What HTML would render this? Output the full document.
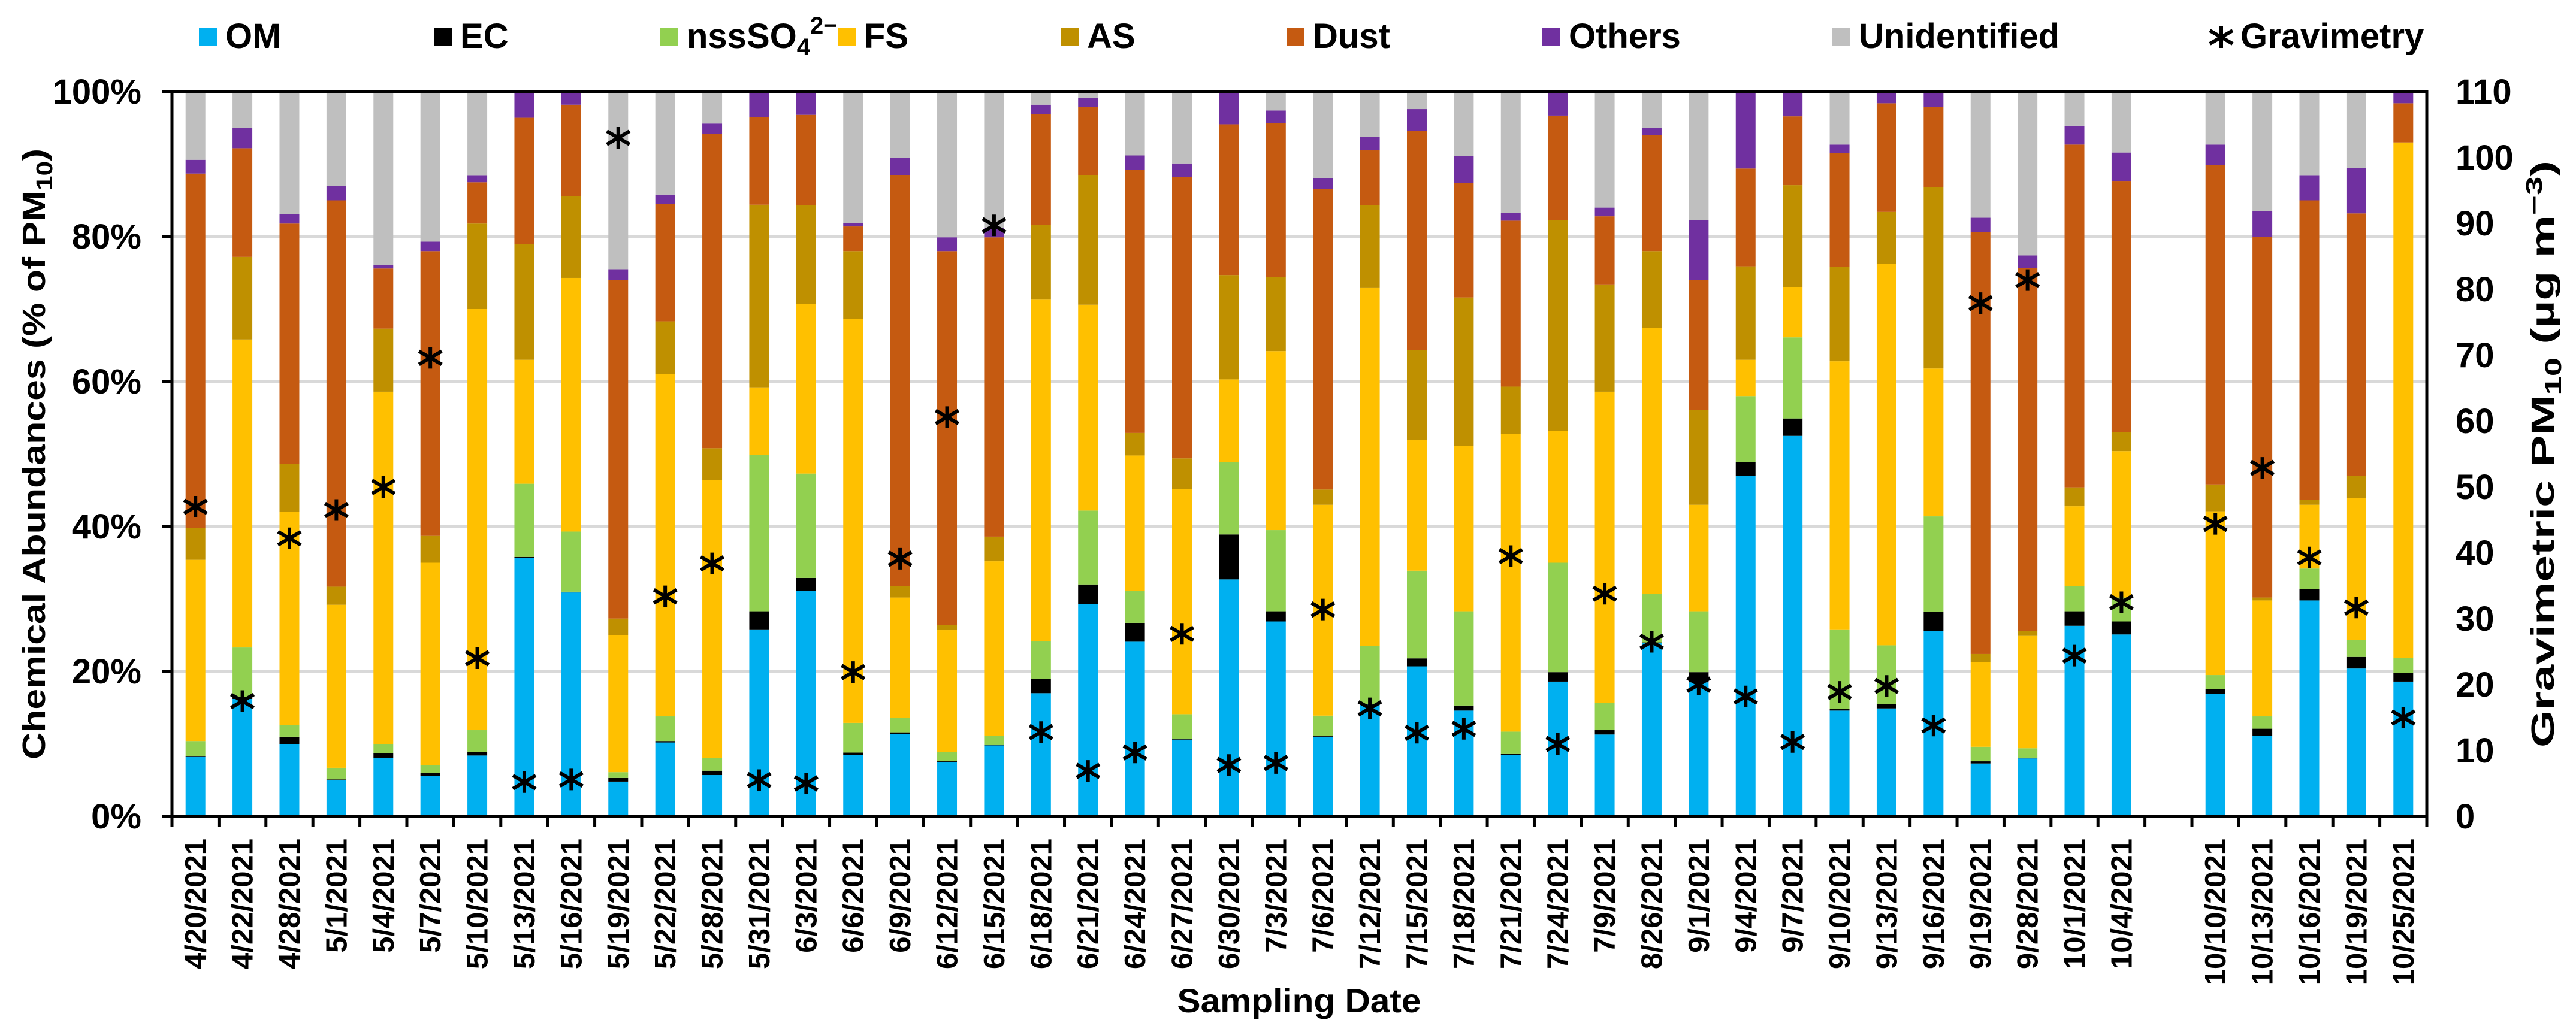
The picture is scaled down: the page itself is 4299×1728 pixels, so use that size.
<!DOCTYPE html>
<html><head><meta charset="utf-8"><style>
html,body{margin:0;padding:0;background:#fff;}
svg{display:block;font-family:"Liberation Sans",Arial,sans-serif;}
</style></head><body>
<svg id="chart" width="4299" height="1728" viewBox="0 0 4299 1728" xmlns="http://www.w3.org/2000/svg">
  <g id="grid"></g>
  <g id="bars"></g>
  <g id="marks"></g>
  <g id="axes"></g>
  <g id="legend"></g>
  <text x="75" y="758" transform="rotate(-90 75 758)" text-anchor="middle" font-weight="bold" font-size="54" textLength="1020" lengthAdjust="spacingAndGlyphs">Chemical Abundances (% of PM<tspan font-size="38" dy="12">10</tspan><tspan dy="-12">)</tspan></text>
  <text x="4262" y="758" transform="rotate(-90 4262 758)" text-anchor="middle" font-weight="bold" font-size="54" textLength="980" lengthAdjust="spacingAndGlyphs">Gravimetric PM<tspan font-size="38" dy="12">10</tspan><tspan dy="-12"> (µg m</tspan><tspan font-size="38" dy="-20">−3</tspan><tspan dy="20">)</tspan></text>
  <text x="2168" y="1690" text-anchor="middle" font-weight="bold" font-size="56" textLength="407" lengthAdjust="spacingAndGlyphs">Sampling Date</text>
</svg>
<script>
const categories = ["4/20/2021","4/22/2021","4/28/2021","5/1/2021","5/4/2021","5/7/2021","5/10/2021","5/13/2021","5/16/2021","5/19/2021","5/22/2021","5/28/2021","5/31/2021","6/3/2021","6/6/2021","6/9/2021","6/12/2021","6/15/2021","6/18/2021","6/21/2021","6/24/2021","6/27/2021","6/30/2021","7/3/2021","7/6/2021","7/12/2021","7/15/2021","7/18/2021","7/21/2021","7/24/2021","7/9/2021","8/26/2021","9/1/2021","9/4/2021","9/7/2021","9/10/2021","9/13/2021","9/16/2021","9/19/2021","9/28/2021","10/1/2021","10/4/2021","","10/10/2021","10/13/2021","10/16/2021","10/19/2021","10/25/2021"];
const om = [8.2,16.2,10.0,5.0,8.1,5.6,8.4,35.7,30.9,4.8,10.2,5.7,25.8,31.1,8.5,11.4,7.5,9.8,17.0,29.3,24.1,10.6,32.7,26.9,11.0,15.4,20.7,14.6,8.5,18.6,11.3,23.9,18.5,47.0,52.5,14.6,14.9,25.6,7.3,8.0,26.3,25.1,null,16.9,11.1,29.8,20.4,18.6];
const ec = [0.1,0.3,1.0,0.1,0.6,0.4,0.5,0.1,0.1,0.5,0.2,0.6,2.5,1.8,0.3,0.2,0.1,0.1,2.0,2.7,2.6,0.1,6.2,1.4,0.1,0.1,1.1,0.7,0.1,1.3,0.6,0.1,1.4,1.9,2.4,0.2,0.6,2.6,0.3,0.1,2.0,1.8,null,0.7,1.0,1.6,1.6,1.2];
const nss = [2.1,6.8,1.6,1.6,1.3,1.1,3.0,10.1,8.3,0.8,3.4,1.8,21.6,14.4,4.1,2.0,1.3,1.2,5.2,10.2,4.4,3.4,10.0,11.2,2.8,8.0,12.1,13.0,3.1,15.1,3.8,6.7,8.4,9.1,11.2,11.0,8.1,13.2,2.0,1.3,3.5,3.3,null,1.9,1.7,2.8,2.3,2.1];
const fs = [25.0,42.5,29.4,22.5,48.6,27.9,58.1,17.1,35.0,18.9,47.2,38.3,9.3,23.4,55.7,16.6,16.8,24.1,47.1,28.4,18.7,31.1,11.4,24.7,29.1,49.4,18.0,22.8,41.1,18.2,42.9,36.7,14.7,5.0,6.9,37.0,52.6,20.4,11.7,15.5,11.0,20.2,null,22.6,16.0,8.8,19.6,71.1];
const as = [4.4,11.4,6.6,2.5,8.7,3.7,11.8,16.0,11.3,2.3,7.3,4.4,25.2,13.6,9.4,1.6,0.7,3.4,10.3,17.9,3.1,4.2,14.4,10.2,2.1,11.4,12.4,20.5,6.5,29.1,14.8,10.6,13.1,12.9,14.1,13.0,7.2,25.0,1.1,0.7,2.6,2.6,null,3.7,0.4,0.7,3.1,0];
const dust = [48.9,15.0,33.2,53.3,8.3,39.3,5.7,17.4,12.6,46.7,16.2,43.4,12.1,12.5,3.4,56.7,51.6,41.3,15.3,9.4,36.3,38.8,20.8,21.3,41.5,7.6,30.3,15.8,22.9,14.4,9.4,16.0,17.9,13.5,9.5,15.7,15.0,11.1,58.2,50.1,47.3,34.6,null,44.1,49.8,41.3,36.2,5.4];
const others = [1.9,2.8,1.3,2.0,0.5,1.3,0.9,3.6,1.8,1.5,1.3,1.4,3.5,3.2,0.5,2.4,1.9,1.3,1.3,1.2,2.0,1.9,4.5,1.7,1.5,1.9,3.0,3.7,1.1,3.3,1.2,1.0,8.3,10.6,3.4,1.2,1.6,2.1,2.0,1.7,2.6,4.0,null,2.8,3.5,3.4,6.3,1.6];
const gravimetry = [47,17.5,42.2,46.5,50,69.6,24,5.2,5.6,103,33.4,38.4,5.5,5,21.9,39.1,60.6,89.7,12.8,6.9,9.7,27.7,7.8,8.1,31.4,16.4,12.7,13.3,39.5,11,33.8,26.5,20,18.2,11.3,18.9,19.8,13.8,77.9,81.4,24.4,32.5,null,44.4,52.9,39.3,31.7,15.0];
const leftTicks = ["0%","20%","40%","60%","80%","100%"];
const rightTicks = ["0","10","20","30","40","50","60","70","80","90","100","110"];

const NS = "http://www.w3.org/2000/svg";
const X0 = 287, X1 = 4050, Y0 = 1363, Y1 = 153, BW = 33;
const step = (X1 - X0) / categories.length;
function xc(i){ return X0 + (i + 0.5) * step; }
function yp(v){ return Y0 - v / 100 * (Y0 - Y1); }
function yg(v){ return Y0 - v / 110 * (Y0 - Y1); }
function mk(tag, attrs, parent){ const e = document.createElementNS(NS, tag); for (const k in attrs) e.setAttribute(k, attrs[k]); parent.appendChild(e); return e; }

const grid = document.getElementById('grid'), bars = document.getElementById('bars'), marks = document.getElementById('marks'), axes = document.getElementById('axes'), legend = document.getElementById('legend');

// gridlines
for (let k = 1; k < 5; k++) {
  const g = mk('line', {x1:X0, x2:X1, y1:yp(k*20), y2:yp(k*20), stroke:'#d9d9d9', 'stroke-width':4}, grid);
  
  
}

const series = [
  {name:'om', vals:om, color:'#00B0F0'},
  {name:'ec', vals:ec, color:'#000000'},
  {name:'nsso4', vals:nss, color:'#92D050'},
  {name:'fs', vals:fs, color:'#FFC000'},
  {name:'as', vals:as, color:'#BF9000'},
  {name:'dust', vals:dust, color:'#C55A11'},
  {name:'others', vals:others, color:'#7030A0'}
];
categories.forEach((c, i) => {
  if (om[i] === null) return;
  let cum = 0;
  series.forEach(s => {
    const v = s.vals[i];
    if (v > 0) {
      const r = mk('rect', {x:xc(i)-BW/2, y:yp(cum+v), width:BW, height:yp(cum)-yp(cum+v), fill:s.color}, bars);
      
      
    }
    cum += v;
  });
  if (cum < 100) {
    const r = mk('rect', {x:xc(i)-BW/2, y:yp(100), width:BW, height:yp(cum)-yp(100), fill:'#BFBFBF'}, bars);
    
    
  }
});

// gravimetry markers
function star(cx, cy, parent){
  const g = mk('g', {stroke:'#000', 'stroke-width':6, 'stroke-linecap':'butt'}, parent);
  mk('line', {x1:cx-19, y1:cy-11, x2:cx+19, y2:cy+11}, g);
  mk('line', {x1:cx-19, y1:cy+11, x2:cx+19, y2:cy-11}, g);
  mk('line', {x1:cx, y1:cy-18, x2:cx, y2:cy+18}, g);
  return g;
}
gravimetry.forEach((v, i) => {
  if (v === null) return;
  const g = star(xc(i), yg(v), marks);
  
  
});

// axes frame
const frame = mk('rect', {x:X0, y:Y1, width:X1-X0, height:Y0-Y1, fill:'none', stroke:'#000', 'stroke-width':5}, axes);



leftTicks.forEach((t, k) => {
  const y = yp(k*20);
  const tk = mk('line', {x1:X0-16, x2:X0, y1:y, y2:y, stroke:'#000', 'stroke-width':5}, axes);
  
  
  const tx = mk('text', {x:236, y:y+20, 'text-anchor':'end', 'font-size':58, 'font-weight':'bold'}, axes);
  tx.textContent = t;
  
  
});
rightTicks.forEach((t, k) => {
  const y = yg(k*10);
  const tx = mk('text', {x:4098, y:y+20, 'text-anchor':'start', 'font-size':58, 'font-weight':'bold'}, axes);
  tx.textContent = t;
  
  
});
for (let i = 0; i <= categories.length; i++) {
  const x = X0 + i*step;
  const tk = mk('line', {x1:x, x2:x, y1:Y0, y2:Y0+18, stroke:'#000', 'stroke-width':5}, axes);
  
  
}
categories.forEach((c, i) => {
  if (!c) return;
  const x = xc(i) + 17, y = 1400;
  const tx = mk('text', {x:x, y:y, transform:'rotate(-90 '+x+' '+y+')', 'text-anchor':'end', 'font-size':49, 'font-weight':'bold'}, axes);
  tx.textContent = c;
  
  
});

// legend
const legendItems = [
  {label:'OM', color:'#00B0F0', sx:332},
  {label:'EC', color:'#000000', sx:724},
  {label:'nssSO', color:'#92D050', sx:1102, sub:true},
  {label:'FS', color:'#FFC000', sx:1398},
  {label:'AS', color:'#BF9000', sx:1770},
  {label:'Dust', color:'#C55A11', sx:2147},
  {label:'Others', color:'#7030A0', sx:2574},
  {label:'Unidentified', color:'#BFBFBF', sx:3058}
];
legendItems.forEach(it => {
  const r = mk('rect', {x:it.sx, y:47, width:30, height:30, fill:it.color}, legend);
  
  
  const t = mk('text', {x:it.sx+44, y:80, 'font-size':58, 'font-weight':'bold'}, legend);
  
  
  if (it.sub) {
    t.textContent = 'nssSO';
    const s1 = mk('tspan', {'font-size':40, dy:12}, t); s1.textContent = '4';
    const s2 = mk('tspan', {'font-size':40, dy:-36}, t); s2.textContent = '2−';
  } else {
    t.textContent = it.label;
  }
});
const ls = star(3707, 62, legend);


const lt = mk('text', {x:3739, y:80, 'font-size':58, 'font-weight':'bold'}, legend);
lt.textContent = 'Gravimetry';


</script>
</body></html>
